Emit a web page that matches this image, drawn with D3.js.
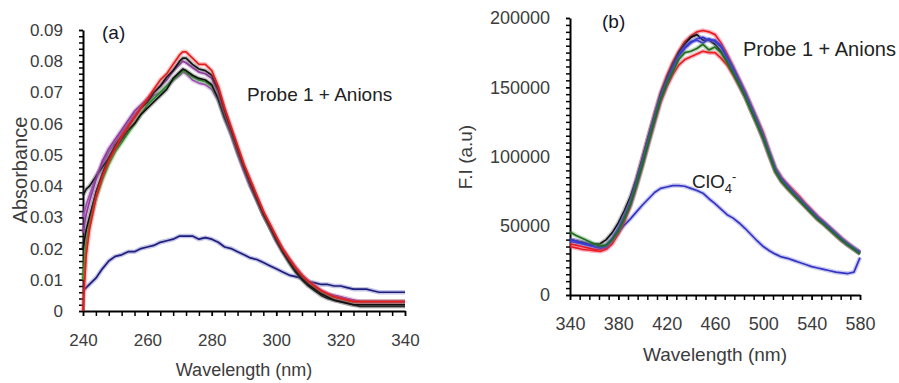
<!DOCTYPE html>
<html>
<head>
<meta charset="utf-8">
<script src="https://cdn.jsdelivr.net/npm/d3@7"></script>
<style>
  body { margin: 0; background: #fff; }
  svg { display: block; font-family: "Liberation Sans", Arial, sans-serif; }
</style>
</head>
<body>
<svg id="chart" width="899" height="383"></svg>
<script>
// ---- Panel (a): absorbance spectra ----
var wlA = [240, 241, 242, 244, 246, 248, 250, 252, 254, 256, 258, 260, 262, 264, 266, 268, 270, 271, 272, 274,
    276, 278, 280, 282, 284, 286, 288, 290, 292, 294, 296, 298, 300, 302, 304, 306, 308, 310, 312, 314,
    316, 318, 320, 322, 324, 326, 328, 330, 332, 334, 336, 338, 340];
var redA = [0, .018, .026, .036, .043, .048, .052, .056, .059, .062, .065, .068, .071, .074, .076, .079, .082, .083, .083, .081,
    .079, .079, .077, .072, .065, .059, .053, .047, .042, .037, .032, .028, .024, .020, .017, .014, .0115, .0095, .008, .0065,
    .0055, .0045, .004, .0035, .003, .003, .003, .003, .003, .003, .003, .003, .003];
var black1A = [.020, .026, .030, .038, .044, .049, .053, .056, .059, .062, .065, .067, .070, .072, .075, .077, .080, .081, .081, .079,
    .0775, .077, .0755, .071, .064, .058, .052, .046, .041, .036, .031, .027, .023, .019, .016, .013, .0105, .0085, .007, .0055,
    .0045, .0035, .003, .0025, .002, .002, .002, .002, .002, .002, .002, .002, .002];
var black2A = [.037, .039, .040, .043, .046, .049, .052, .055, .058, .060, .063, .065, .067, .069, .071, .0745, .0765, .0775, .077, .0755,
    .0745, .074, .0725, .068, .062, .057, .051, .0455, .040, .0355, .031, .027, .0225, .019, .0155, .0125, .010, .008, .0065, .005,
    .004, .0035, .003, .0025, .002, .0015, .0015, .0015, .0015, .0015, .0015, .0015, .0015];
var greenA = [.010, .022, .028, .036, .042, .047, .051, .054, .057, .060, .063, .066, .068, .070, .072, .074, .076, .077, .0765, .075,
    .074, .0735, .072, .068, .062, .057, .051, .046, .041, .036, .031, .027, .023, .0195, .016, .013, .011, .009, .0075, .006,
    .005, .0045, .004, .0035, .003, .003, .003, .003, .003, .003, .003, .003, .003];
var purple1A = [.025, .031, .035, .042, .048, .052, .055, .058, .061, .064, .066, .068, .070, .072, .074, .077, .079, .080, .0795, .078,
    .0765, .076, .0745, .070, .0635, .0575, .0515, .0455, .0405, .036, .031, .027, .023, .0195, .0165, .014, .0115, .0095, .008, .0065,
    .0055, .005, .0045, .004, .0035, .003, .003, .003, .003, .003, .003, .003, .003];
var purple2A = [.030, .034, .037, .043, .047, .051, .054, .057, .060, .063, .065, .067, .069, .070, .072, .074, .0755, .0765, .076, .074,
    .073, .0725, .071, .0675, .0615, .0565, .0505, .045, .040, .0355, .031, .027, .023, .0195, .0165, .0135, .011, .009, .0075, .0065,
    .0055, .0045, .004, .0035, .003, .003, .003, .003, .003, .003, .003, .003, .003];
var navyA = [.0065, .0075, .0085, .0105, .0135, .016, .0175, .018, .019, .019, .020, .0205, .021, .022, .0225, .023, .024, .024, .024, .024,
    .023, .0235, .023, .022, .0205, .020, .019, .018, .017, .0165, .0155, .0145, .0135, .0125, .0115, .011, .0105, .0095, .009, .0085,
    .0085, .008, .008, .0075, .007, .007, .007, .0065, .006, .006, .006, .006, .006];
var xTicksA = [240, 260, 280, 300, 320, 340];
var yTicksA = [0, 0.01, 0.02, 0.03, 0.04, 0.05, 0.06, 0.07, 0.08, 0.09];
var yTickLabelsA = ["0", "0.01", "0.02", "0.03", "0.04", "0.05", "0.06", "0.07", "0.08", "0.09"];

// ---- Panel (b): fluorescence spectra (values in thousands of counts) ----
var wlB = [340, 345, 350, 355, 360, 365, 370, 375, 380, 385, 390, 395, 400, 405, 410, 415, 420, 425, 430, 435,
    440, 445, 450, 455, 460, 465, 470, 475, 480, 485, 490, 495, 500, 505, 510, 515, 520, 525, 530, 535,
    540, 545, 550, 555, 560, 565, 570, 575, 580];
var red1B = [37, 36, 35, 34, 33, 33, 34, 39, 47, 57, 68, 83, 99, 115, 131, 146, 158, 168, 176, 183,
    187, 190, 191, 190, 188, 182, 174, 165, 156, 147, 137, 127, 117, 104, 92, 85, 80, 75.5, 71, 66,
    61.5, 57, 53, 49, 45, 41, 37.5, 34, 31];
var red2B = [35, 34, 33, 32.5, 32, 31.5, 33, 37, 44, 53, 64, 78, 93, 109, 124, 139, 150, 159, 166, 170,
    172, 174, 176, 175, 175, 171, 166, 159, 151, 143, 133, 123, 112, 100, 89, 82, 77, 72.5, 68, 63.5,
    59, 54.5, 51, 47, 43, 39, 36, 33, 30];
var blackB = [40, 39, 38, 37, 36.5, 37, 40, 45, 52, 61, 71, 84, 99, 115, 130, 145, 156, 166, 175, 181,
    186, 188, 184, 184, 181, 176, 169, 161, 152, 143, 133, 123, 113, 101, 89.5, 82.5, 77.5, 73, 68.5, 64,
    59.5, 55, 51.5, 47.5, 43.5, 39.5, 36, 33, 30];
var blue1B = [39, 38, 37, 36, 35, 34, 35, 40, 47, 56, 66, 80, 95, 111, 127, 142, 153, 163, 172, 178,
    182, 185, 186, 184, 184, 180, 172, 164, 155, 146, 136, 126, 115, 103, 91, 84, 79, 74, 69.5, 65,
    60.5, 56, 52.5, 48.5, 44.5, 40.5, 37, 34, 31];
var blue2B = [40, 39, 37.5, 36.5, 35, 34.5, 36, 41, 48, 57, 67, 81, 96, 112, 128, 143, 154, 164, 173, 179,
    183, 184, 182, 185, 183, 179, 171, 163, 154, 145, 135, 125, 114, 102, 90.5, 83.5, 78.5, 74, 69, 64.5,
    60, 55.5, 52, 48, 44, 40, 36.5, 33.5, 30.5];
var greenB = [45.5, 43, 41, 39, 37, 35.5, 36, 40, 46, 55, 65, 79, 94, 110, 126, 141, 152, 161, 170, 175,
    176, 178, 181, 177, 179, 175, 168, 160, 152, 143, 133, 123, 113, 101, 89, 82, 77, 72.5, 68, 63.5,
    59, 54.5, 51, 47, 43, 39.5, 36, 33, 29.5];
var clo4B = [40, 39, 38, 37, 35.5, 34, 36, 40, 45, 50.5, 55, 60, 65, 69.5, 74, 77, 78, 79, 79, 78.5,
    77, 75.5, 73.5, 69.5, 66, 62, 58, 55.5, 52, 48, 43.5, 39, 35, 32, 29.5, 27.5, 26.5, 25, 23.5, 22,
    20.5, 19.5, 18.5, 17.5, 16.5, 16, 15.5, 16.5, 27];
var xTicksB = [340, 380, 420, 460, 500, 540, 580];
var yTicksB = [0, 50, 100, 150, 200];
var yTickLabelsB = ["0", "50000", "100000", "150000", "200000"];

var svg = d3.select("#chart");
var textColor = "#3c3c3c";

// draw a spectrum: a soft halo under a thin core line
function drawSpectrum(g, x, y, xs, ys, color, halo, curve) {
    var line = d3.line()
        .x(function(d, i) { return x(xs[i]); })
        .y(function(d) { return y(d); })
        .curve(curve || d3.curveLinear);
    g.append("path")
        .attr("d", line(ys))
        .attr("fill", "none")
        .attr("stroke", halo)
        .attr("stroke-opacity", 0.35)
        .attr("stroke-width", 4.5)
        .attr("stroke-linejoin", "round");
    g.append("path")
        .attr("d", line(ys))
        .attr("fill", "none")
        .attr("stroke", color)
        .attr("stroke-width", 1.7)
        .attr("stroke-linejoin", "round");
}

function drawAxes(g, x, y, o) {
    // minor ticks
    g.append("g")
        .attr("transform", "translate(0," + y.range()[0] + ")")
        .call(d3.axisBottom(x).tickValues(o.xMinor).tickSize(5).tickFormat(""))
        .call(function(s) { s.select(".domain").remove(); });
    g.append("g")
        .attr("transform", "translate(" + x.range()[0] + ",0)")
        .call(d3.axisLeft(y).tickValues(o.yMinor).tickSize(4).tickFormat(""))
        .call(function(s) { s.select(".domain").remove(); });

    // major ticks with labels
    var xa = g.append("g")
        .attr("transform", "translate(0," + y.range()[0] + ")")
        .call(d3.axisBottom(x).tickValues(o.xTicks).tickSize(5).tickSizeOuter(0).tickPadding(o.xPad));
    var ya = g.append("g")
        .attr("transform", "translate(" + x.range()[0] + ",0)")
        .call(d3.axisLeft(y).tickValues(o.yTicks).tickSize(4).tickSizeOuter(0).tickPadding(o.yPad)
            .tickFormat(function(d, i) { return o.yLabels[i]; }));

    [xa, ya].forEach(function(a) {
        a.select(".domain").attr("stroke", "#000").attr("stroke-width", 2);
        a.selectAll("text")
            .attr("font-family", "'Liberation Sans', Arial, sans-serif")
            .attr("font-size", o.tickFont)
            .attr("fill", textColor);
    });
    g.selectAll(".tick line").attr("stroke", "#000").attr("stroke-width", 1.5);
}

// ---------- panel (a) ----------
var gA = svg.append("g");
var xA = d3.scaleLinear().domain([240, 340]).range([83, 405]);
var yA = d3.scaleLinear().domain([0, 0.09]).range([311, 30]);

drawAxes(gA, xA, yA, {
    xTicks: xTicksA, xMinor: d3.range(240, 341, 4),
    yTicks: yTicksA, yMinor: d3.range(0, 0.0901, 0.002),
    yLabels: yTickLabelsA, xPad: 18, yPad: 16, tickFont: "17px"
});

drawSpectrum(gA, xA, yA, wlA, navyA, "#1d1d80", "#5555b0");
drawSpectrum(gA, xA, yA, wlA, purple2A, "#a04db4", "#b070c0");
drawSpectrum(gA, xA, yA, wlA, greenA, "#1f9a1f", "#40b040");
drawSpectrum(gA, xA, yA, wlA, black2A, "#111111", "#555555");
drawSpectrum(gA, xA, yA, wlA, purple1A, "#8e3a9e", "#a060b0");
drawSpectrum(gA, xA, yA, wlA, black1A, "#111111", "#555555");
drawSpectrum(gA, xA, yA, wlA, redA, "#e41e1e", "#f05050");

gA.append("text").attr("x", 102).attr("y", 39).attr("font-size", "19px").attr("fill", "#15152a").text("(a)");
gA.append("text").attr("x", 247).attr("y", 101).attr("font-size", "19px").attr("fill", "#222").text("Probe 1 + Anions");
gA.append("text").attr("x", 244).attr("y", 376).attr("text-anchor", "middle")
    .attr("font-size", "18px").attr("fill", textColor).text("Wavelength (nm)");
gA.append("text").attr("transform", "translate(27,170) rotate(-90)").attr("text-anchor", "middle")
    .attr("font-size", "20px").attr("fill", textColor).text("Absorbance");

// ---------- panel (b) ----------
var gB = svg.append("g");
var xB = d3.scaleLinear().domain([340, 580]).range([570, 860]);
var yB = d3.scaleLinear().domain([0, 200]).range([295, 18]);

drawAxes(gB, xB, yB, {
    xTicks: xTicksB, xMinor: d3.range(340, 581, 8),
    yTicks: yTicksB, yMinor: d3.range(0, 201, 5),
    yLabels: yTickLabelsB, xPad: 17, yPad: 16, tickFont: "18px"
});

drawSpectrum(gB, xB, yB, wlB, clo4B, "#3434c4", "#6a6ad8");
drawSpectrum(gB, xB, yB, wlB, red2B, "#ee1a1a", "#e8305c");
drawSpectrum(gB, xB, yB, wlB, red1B, "#ee1a1a", "#e8305c");
drawSpectrum(gB, xB, yB, wlB, blackB, "#111111", "#555555");
drawSpectrum(gB, xB, yB, wlB, blue1B, "#2e2ec8", "#6060d8");
drawSpectrum(gB, xB, yB, wlB, blue2B, "#3a3ad0", "#6a6ad8");
drawSpectrum(gB, xB, yB, wlB, greenB, "#1e6e1e", "#4a8a4a");

gB.append("text").attr("x", 602).attr("y", 28).attr("font-size", "19px").attr("fill", "#15152a").text("(b)");
gB.append("text").attr("x", 743).attr("y", 56).attr("font-size", "20px").attr("fill", "#222").text("Probe 1 + Anions");
var clo = gB.append("text").attr("x", 692).attr("y", 188).attr("font-size", "19px").attr("fill", "#222");
clo.append("tspan").text("ClO");
clo.append("tspan").attr("font-size", "13px").attr("dy", 5).text("4");
clo.append("tspan").attr("font-size", "13px").attr("dy", -12).text("-");
gB.append("text").attr("x", 715).attr("y", 361).attr("text-anchor", "middle")
    .attr("font-size", "19px").attr("fill", textColor).text("Wavelength (nm)");
gB.append("text").attr("transform", "translate(472,157) rotate(-90)").attr("text-anchor", "middle")
    .attr("font-size", "19px").attr("fill", textColor).text("F.I (a.u)");
</script>
</body>
</html>
